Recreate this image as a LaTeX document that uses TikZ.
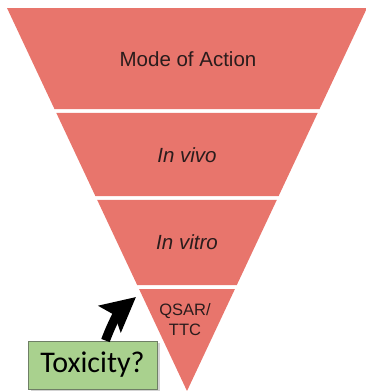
\documentclass[tikz,border=0pt]{standalone}
\usepackage{fontspec}
\setmainfont{Liberation Sans}
\newfontfamily\calibrifont{Carlito}
\usetikzlibrary{calc,arrows.meta,shadows}

\begin{document}
\begin{tikzpicture}[x=1pt,y=-1pt]
    % Define colours
    \definecolor{bandColour}{HTML}{E8756C}
    \definecolor{textColour}{HTML}{2A1C1C}
    \definecolor{boxColour}{HTML}{A9D18E}
    \definecolor{boxBorder}{HTML}{6F7F66}

    % Define styles
    \tikzset{
        band/.style={fill=bandColour, draw=none},
        bandlabel/.style={text=textColour, font=\fontsize{20.5}{24}\selectfont, align=center},
        questionbox/.style={fill=boxColour, draw=boxBorder, line width=1pt,
            minimum width=129pt, minimum height=48pt, inner sep=0pt,
            font=\calibrifont\fontsize{30}{34}\selectfont,
            drop shadow={shadow xshift=3pt, shadow yshift=-2pt, opacity=0.35}}
    }

    % Define picture size
    \useasboundingbox (0,0) rectangle (366,391);

    % Corners of the funnel
    \coordinate (TL) at (7,8);
    \coordinate (TR) at (367,8);
    \coordinate (A) at (187,391);

    % Draw the four bands (top/bottom in pixels)
    \foreach \t/\b in {8/109, 113/196, 200/285, 289/391} {
        \pgfmathsetmacro{\ft}{(\t-8)/383}
        \pgfmathsetmacro{\fb}{(\b-8)/383}
        \fill[band] ($(TL)!\ft!(A)$) -- ($(TR)!\ft!(A)$) -- ($(TR)!\fb!(A)$) -- ($(TL)!\fb!(A)$) -- cycle;
    }

    % Label the bands
    \node[bandlabel] (moa) at (188,59) {Mode of Action};
    \node[bandlabel] (vivo) at (187,155) {\itshape In vivo};
    \node[bandlabel] (vitro) at (187,242) {\itshape In vitro};
    \node[bandlabel, font=\fontsize{16.5}{20}\selectfont] (qsar) at (185,320) {QSAR/\\TTC};

    % Question box and arrow
    \node[questionbox] (tox) at (92.5,365) {Toxicity?};
    \coordinate (target) at (136,297);
    \draw[line width=9pt, -{Stealth[length=34pt,width=34pt,inset=6pt]}] ([xshift=13pt]tox.north) to[bend left=15] (target);

\end{tikzpicture}
\end{document}
